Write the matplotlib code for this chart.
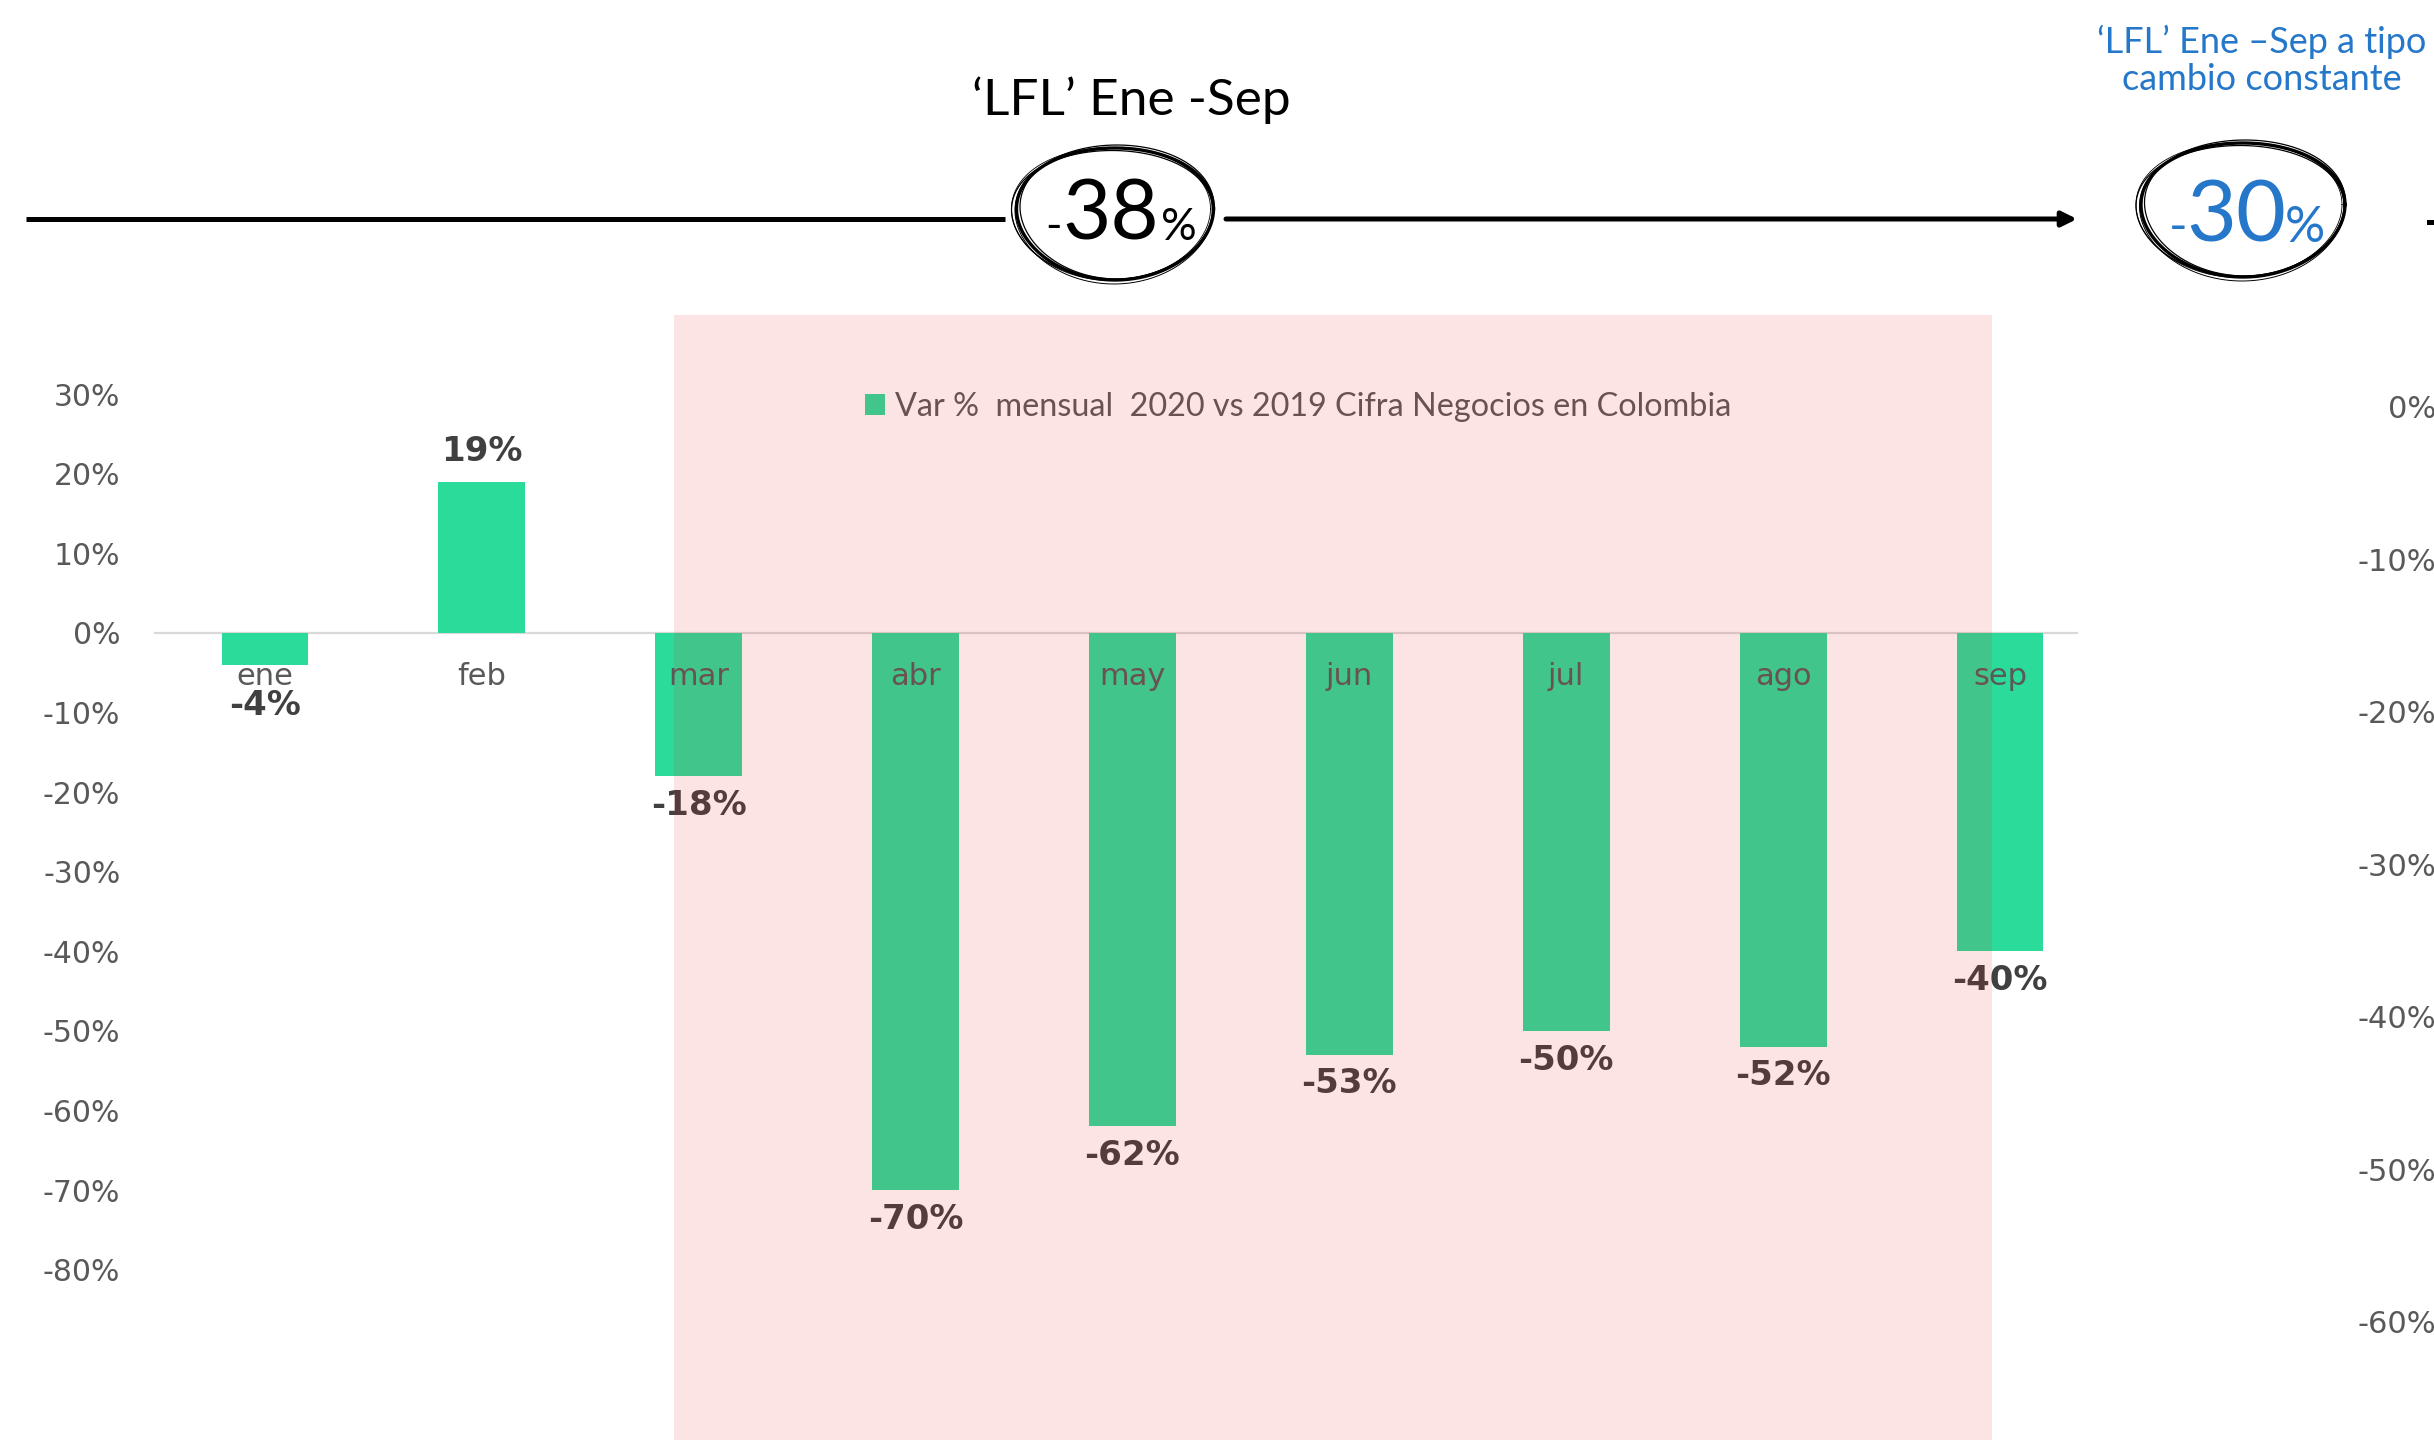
import numpy as np
import matplotlib
matplotlib.use("Agg")
import matplotlib.pyplot as plt
from matplotlib.patches import Rectangle

# ── Data ──────────────────────────────────────────────────────────────────────
MONTHS = ["ene", "feb", "mar", "abr", "may", "jun", "jul", "ago", "sep"]
VAR_PCT = [-4, 19, -18, -70, -62, -53, -50, -52, -40]
LEFT_TICKS = [30, 20, 10, 0, -10, -20, -30, -40, -50, -60, -70, -80]
RIGHT_TICKS = [0, -10, -20, -30, -40, -50, -60]
LFL_TOTAL = -38
LFL_CONST = -30
LEGEND_LABEL = "Var %  mensual  2020 vs 2019 Cifra Negocios en Colombia"
TITLE_LEFT = "\u2018LFL\u2019 Ene -Sep"
TITLE_RIGHT = "\u2018LFL\u2019 Ene \u2013Sep a tipo\ncambio constante"

# ── Style ─────────────────────────────────────────────────────────────────────
W, H, DPI = 2434, 1440, 100
GREEN = "#2ADB9A"
BLUE = "#2577C9"
TICK_GREY = "#595959"
LABEL_DARK = "#404040"
CHART_FONT = "DejaVu Sans"
plt.rcParams["font.family"] = ["Lato", "DejaVu Sans"]

fig = plt.figure(figsize=(W / DPI, H / DPI), dpi=DPI)


def px_axes(x0, y0, x1, y1, **kw):
    """Axes placed by pixel box (top-left origin)."""
    return fig.add_axes([x0 / W, 1 - y1 / H, (x1 - x0) / W, (y1 - y0) / H], **kw)


# ── Main bar chart ────────────────────────────────────────────────────────────
ax = px_axes(155, 314.6, 2077, 1389)
x = np.arange(len(MONTHS))
ax.bar(x, VAR_PCT, width=0.40, color=GREEN, label=LEGEND_LABEL, zorder=2)
ax.set_xlim(-0.507, 8.355)
ax.set_ylim(-95, 40)
ax.set_yticks(LEFT_TICKS)
ax.set_yticklabels([f"{v}%" for v in LEFT_TICKS])
ax.set_xticks(x)
ax.set_xticklabels(MONTHS)
ax.set_axisbelow(False)
for s in ["top", "right", "left"]:
    ax.spines[s].set_visible(False)
ax.spines["bottom"].set_position(("data", 0))
ax.spines["bottom"].set_color("#D9D9D9")
ax.spines["bottom"].set_linewidth(1.6)
ax.spines["bottom"].set_zorder(1)
ax.tick_params(axis="y", length=0, pad=25, labelsize=21.5, labelcolor=TICK_GREY,
               labelfontfamily=CHART_FONT)
ax.tick_params(axis="x", length=0, pad=21, labelsize=22, labelcolor=TICK_GREY,
               labelfontfamily=CHART_FONT)
ax.patch.set_visible(False)

for xi, v in zip(x, VAR_PCT):
    if v >= 0:
        ax.annotate(f"{v}%", (xi, v), xytext=(0, 22), textcoords="offset points",
                    ha="center", va="center", fontsize=24.5, fontweight="bold",
                    color=LABEL_DARK, family=CHART_FONT)
    else:
        ax.annotate(f"{v}%", (xi, min(v, -5.5)), xytext=(0, -21),
                    textcoords="offset points", ha="center", va="center",
                    fontsize=24.5, fontweight="bold", color=LABEL_DARK,
                    family=CHART_FONT)

ax.legend(loc="center left", bbox_to_anchor=(865 / W, 1 - 407 / H),
          bbox_transform=fig.transFigure, frameon=False, fontsize=23.3,
          handlelength=0.62, handleheight=0.62, handletextpad=0.3,
          borderpad=0, borderaxespad=0, labelcolor=TICK_GREY)

# ── Partial second chart (cut at the right edge) ──────────────────────────────
ax2 = px_axes(2453, 376.5, 2600, 1398)
ax2.set_ylim(-65, 2)
ax2.set_yticks(RIGHT_TICKS)
ax2.set_yticklabels([f"{v}%" for v in RIGHT_TICKS])
ax2.set_xticks([])
for s in ax2.spines.values():
    s.set_visible(False)
ax2.tick_params(axis="y", length=0, pad=12, labelsize=22, labelcolor=TICK_GREY,
                labelfontfamily=CHART_FONT)
ax2.patch.set_visible(False)

# ── Overlay: timeline, circled figures, red band ──────────────────────────────
ov = px_axes(0, 0, W, H, zorder=10)
ov.set_xlim(0, W)
ov.set_ylim(H, 0)
ov.axis("off")
ov.patch.set_visible(False)

# shaded band (drawn over the bars, translucent)
ov.add_patch(Rectangle((674, 315), 1992 - 674, H - 315,
                       facecolor=(238 / 255, 33 / 255, 33 / 255), alpha=0.117,
                       edgecolor="none"))

# timeline
ov.plot([26, 1005], [219, 219], color="black", lw=3.6, solid_capstyle="butt")
ov.annotate("", xy=(2077, 219), xytext=(1226, 219),
            arrowprops=dict(arrowstyle="-|>", color="black", lw=3.6,
                            mutation_scale=22, shrinkA=0, shrinkB=0))
ov.plot([2429, 2434], [222, 222], color="black", lw=3.6)


def sketch_ellipse(cx, cy, w, h):
    t = np.linspace(0, 2 * np.pi, 400)
    strokes = [(0, 0, 0, 0, 2.4), (-3, 1, 4, -3, 0.9), (2, -2, -3, 2, 0.9),
               (-1, 2, 1, 4, 0.7), (-4, 0, 2, 1, 0.6)]
    for dx, dy, dw, dh, lw in strokes:
        ov.plot(cx + dx + (w + dw) / 2 * np.cos(t),
                cy + dy + (h + dh) / 2 * np.sin(t - 0.08 * np.cos(t)),
                color="black", lw=lw)


def circled_value(base_y, value, big, small, color, x_dash, x_num, x_pct):
    ov.text(x_dash, base_y, "-", ha="right", va="baseline", fontsize=small,
            color=color)
    ov.text(x_num, base_y, f"{abs(value)}", ha="center", va="baseline",
            fontsize=big, color=color)
    ov.text(x_pct, base_y, "%", ha="left", va="baseline", fontsize=small,
            color=color)


sketch_ellipse(1115, 214, 197, 132)
circled_value(240, LFL_TOTAL, 60, 32, "black", 1062, 1111, 1161)
ov.text(1131, 115, TITLE_LEFT, ha="center", va="baseline", fontsize=37,
        color="black")

sketch_ellipse(2243, 210, 204, 134)
circled_value(242, LFL_CONST, 62, 36, BLUE, 2188, 2236, 2285)
for line, yb in zip(TITLE_RIGHT.split("\n"), [53, 90]):
    ov.text(2262, yb, line, ha="center", va="baseline", fontsize=26, color=BLUE)

fig.savefig("out.png", dpi=DPI)
